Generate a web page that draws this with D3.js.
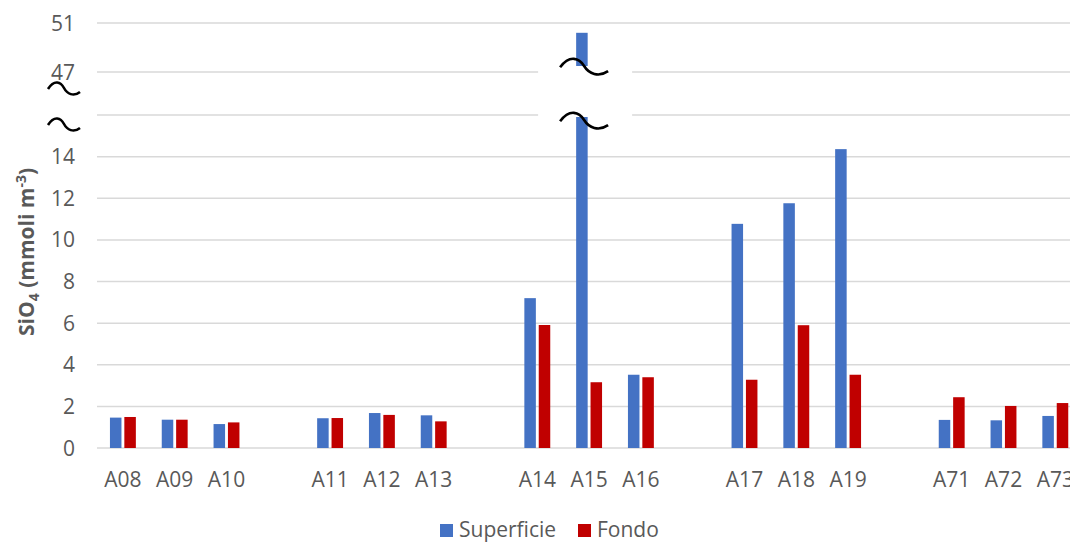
<!DOCTYPE html>
<html>
<head>
<meta charset="utf-8">
<script src="https://cdn.jsdelivr.net/npm/d3@7"></script>
<style>
  body { margin: 0; background: #fff; overflow: hidden; }
  svg { display: block; font-family: 'Open Sans', 'Noto Sans', sans-serif; }
</style>
</head>
<body>
<script>
// stations, blanks mark the gaps between groups
const stations = ['A08', 'A09', 'A10', '', 'A11', 'A12', 'A13', '', 'A14', 'A15', 'A16', '', 'A17', 'A18', 'A19', '', 'A71', 'A72', 'A73'];
const superficie = [1.46, 1.36, 1.15, null, 1.43, 1.68, 1.57, null, 7.2, 50.2, 3.52, null, 10.77, 11.76, 14.36, null, 1.35, 1.33, 1.54];
const fondo = [1.49, 1.36, 1.23, null, 1.44, 1.59, 1.28, null, 5.91, 3.16, 3.4, null, 3.28, 5.9, 3.52, null, 2.44, 2.02, 2.16];
const yTicks = [0, 2, 4, 6, 8, 10, 12, 14, 47, 51];
const yGrid = [0, 2, 4, 6, 8, 10, 12, 14, 16, 47, 51];
const series = ['Superficie', 'Fondo'];
const colors = ['#4472C4', '#C00000'];

const w = 1070;
const h = 543;
const left = 97;
const step = 51.8;

const keys = stations.map((s, i) => s || '_' + i);

const svg = d3.select('body').append('svg').attr('width', w).attr('height', h);

const x = d3.scaleBand()
  .domain(keys)
  .range([left, left + step * keys.length])
  .paddingInner(0.5)
  .paddingOuter(0.25);

const x1 = d3.scaleBand().domain(series).range([0, x.bandwidth()]).paddingInner(0.2);

// broken axis: 0-16 linear, then jump to 47-51
const y = d3.scaleLinear().domain([0, 16, 47, 51]).range([448, 115, 72, 23]);

// gridlines
svg.append('g')
  .selectAll('line')
  .data(yGrid)
  .join('line')
  .attr('x1', left)
  .attr('x2', w)
  .attr('y1', (d) => y(d))
  .attr('y2', (d) => y(d))
  .attr('stroke', '#d9d9d9')
  .attr('stroke-width', 1.5);

// y tick labels
svg.append('g')
  .selectAll('text')
  .data(yTicks)
  .join('text')
  .attr('x', 75)
  .attr('y', (d) => y(d))
  .attr('dy', '0.36em')
  .attr('text-anchor', 'end')
  .attr('font-size', 21)
  .attr('fill', '#595959')
  .text((d) => d);

// bars
const rows = keys.map((k, i) => ({ key: k, values: [superficie[i], fondo[i]] }));
const groups = svg.append('g')
  .selectAll('g')
  .data(rows.filter((r) => r.values[0] != null))
  .join('g')
  .attr('transform', (d) => `translate(${x(d.key)},0)`);

groups.selectAll('rect')
  .data((d) => d.values.map((v, j) => ({ s: series[j], v, c: colors[j] })))
  .join('rect')
  .attr('x', (d) => x1(d.s))
  .attr('width', x1.bandwidth())
  .attr('y', (d) => y(d.v))
  .attr('height', (d) => y(0) - y(d.v))
  .attr('fill', (d) => d.c);

// x labels
svg.append('g')
  .selectAll('text')
  .data(stations.map((s, i) => ({ s, k: keys[i] })).filter((d) => d.s))
  .join('text')
  .attr('x', (d) => x(d.k) + x.bandwidth() / 2)
  .attr('y', 487)
  .attr('text-anchor', 'middle')
  .attr('font-size', 21)
  .attr('fill', '#595959')
  .text((d) => d.s);

// break marks
const wiggle = (sx, sy) =>
  `M ${-1 * sx},${0.1 * sy} C ${-0.6 * sx},${-0.9 * sy} ${-0.2 * sx},${-0.6 * sy} 0,0 S ${0.6 * sx},${0.9 * sy} ${1 * sx},${0.4 * sy}`;

const cx = x('A15') + x.bandwidth() / 2;
svg.append('rect')
  .attr('x', cx - 51)
  .attr('y', y(47) - 6)
  .attr('width', 94)
  .attr('height', y(16) - y(47) + 8)
  .attr('fill', '#fff');

[[cx - 5, y(47) - 6], [cx - 5, y(16) + 5], [64, y(47) + 16], [64, y(16) + 9]].forEach(([px, py], i) => {
  svg.append('path')
    .attr('transform', `translate(${px},${py})`)
    .attr('d', i < 2 ? wiggle(24, 13) : wiggle(16, 10))
    .attr('fill', 'none')
    .attr('stroke', '#000')
    .attr('stroke-width', 2.6);
});

// y axis title
const title = svg.append('text')
  .attr('transform', 'translate(34,252) rotate(-90)')
  .attr('text-anchor', 'middle')
  .attr('font-size', 21)
  .attr('font-weight', 'bold')
  .attr('fill', '#595959');
title.append('tspan').text('SiO');
title.append('tspan').attr('font-size', 14).attr('dy', 5).text('4');
title.append('tspan').attr('dy', -5).text(' (mmoli m');
title.append('tspan').attr('font-size', 14).attr('dy', -8).text('-3');
title.append('tspan').attr('dy', 8).text(')');

// legend
const legend = svg.append('g').attr('transform', 'translate(440,523)');
const items = legend.selectAll('g')
  .data(series)
  .join('g')
  .attr('transform', (d, i) => `translate(${i * 138},0)`);
items.append('rect')
  .attr('y', 1)
  .attr('width', 13)
  .attr('height', 13)
  .attr('fill', (d, i) => colors[i]);
items.append('text')
  .attr('x', 19)
  .attr('y', 14)
  .attr('font-size', 21)
  .attr('fill', '#595959')
  .text((d) => d);
</script>
</body>
</html>
